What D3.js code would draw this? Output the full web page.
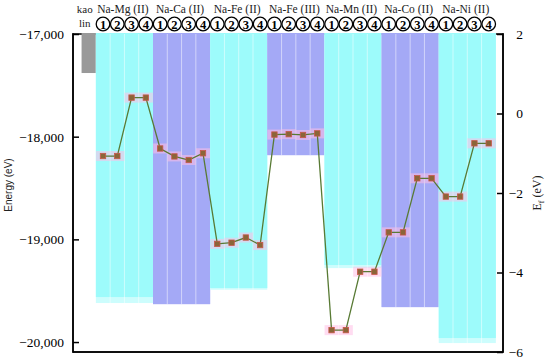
<!DOCTYPE html>
<html>
<head>
<meta charset="utf-8">
<script src="https://cdn.jsdelivr.net/npm/d3@7"></script>
<style>
  body { margin: 0; background: #fff; }
  svg { display: block; }
</style>
</head>
<body>
<svg id="chart" width="550" height="361"></svg>
<script>
// data
const groups = ["Na-Mg (II)", "Na-Ca (II)", "Na-Fe (II)", "Na-Fe (III)", "Na-Mn (II)", "Na-Co (II)", "Na-Ni (II)"]
const sites = ["1", "2", "3", "4"]
const kaolinEnergy = -17380
const groupEnergy = [-19562, -19630, -19474, -18179, -19250, -19659, -19961]
const groupEnergyLow = [-19620, -19632, -19490, -18181, -19280, -19661, -20010]
const formationEnergy = [
  -1.07, -1.07, 0.40, 0.40,
  -0.88, -1.08, -1.17, -1.00,
  -3.28, -3.25, -3.12, -3.31,
  -0.53, -0.52, -0.54, -0.50,
  -5.45, -5.45, -3.98, -3.98,
  -2.99, -2.99, -1.63, -1.63,
  -2.09, -2.09, -0.75, -0.75
]
const energyTicks = [-17000, -18000, -19000, -20000]
const efTicks = [2, 0, -2, -4, -6]

// cyan for even groups, periwinkle for odd ones
const barColors = ["#9dfbfb", "#a4a9f6"]
const lightColors = ["#cdfdfd", "#c6c9fa"]

const svg = d3.select("#chart")
const serif = "'Liberation Serif', 'Times New Roman', serif"

const mLeft = 73, mRight = 503, mTop = 34, mBottom = 352

const x = d3.scaleLinear().domain([-0.6, 29.5]).range([mLeft, mRight])
const y = d3.scaleLinear().domain([-20097, -17000]).range([mBottom, mTop])
const yf = d3.scaleLinear().domain([-6, 2]).range([mBottom, mTop])

// frame
svg.append("rect")
  .attr("x", mLeft).attr("y", mTop)
  .attr("width", mRight - mLeft).attr("height", mBottom - mTop)
  .attr("fill", "none").attr("stroke", "#000").attr("stroke-width", 1.5)

// kaolin bar
svg.append("rect")
  .attr("x", x(0)).attr("y", mTop - 1)
  .attr("width", x(1) - x(0)).attr("height", y(kaolinEnergy) - mTop + 1)
  .attr("fill", "#999")

// group bars
groups.forEach((g, gi) => {
  const c0 = 1 + gi * 4
  svg.append("rect")
    .attr("x", x(c0)).attr("y", mTop - 1)
    .attr("width", x(c0 + 4) - x(c0)).attr("height", y(groupEnergyLow[gi]) - mTop + 1)
    .attr("fill", lightColors[gi % 2])
  svg.append("rect")
    .attr("x", x(c0)).attr("y", mTop - 1)
    .attr("width", x(c0 + 4) - x(c0)).attr("height", y(groupEnergy[gi]) - mTop + 1)
    .attr("fill", barColors[gi % 2])
  // thin separators between the four columns
  for (let k = 1; k < 4; k++) {
    svg.append("line")
      .attr("x1", x(c0 + k)).attr("x2", x(c0 + k))
      .attr("y1", mTop).attr("y2", y(groupEnergyLow[gi]))
      .attr("stroke", "#fff").attr("stroke-opacity", 0.5).attr("stroke-width", 1)
  }
})

// left axis
const yAxis = d3.axisLeft(y).tickValues(energyTicks)
  .tickSize(-6).tickPadding(9)
  .tickFormat(d => d3.format(",")(d).replace("-", "\u2212"))
const ya = svg.append("g").attr("transform", `translate(${mLeft},0)`).call(yAxis)
ya.select(".domain").remove()
ya.selectAll("line").attr("stroke", "#000").attr("stroke-width", 1.5)
ya.selectAll("text").style("font-family", serif).style("font-size", "13.5px").attr("fill", "#000")

// right axis
const yfAxis = d3.axisRight(yf).tickValues(efTicks)
  .tickSize(-6).tickPadding(20)
  .tickFormat(d => String(d).replace("-", "\u2212"))
const yfa = svg.append("g").attr("transform", `translate(${mRight},0)`).call(yfAxis)
yfa.select(".domain").remove()
yfa.selectAll("line").attr("stroke", "#000").attr("stroke-width", 1.5)
yfa.selectAll("text").style("font-family", serif).style("font-size", "13.5px").attr("fill", "#000")
  .attr("text-anchor", "end")

// redraw left/right/bottom axis lines over bars
svg.append("line").attr("x1", mLeft).attr("x2", mLeft).attr("y1", mTop - 0.75).attr("y2", mBottom + 0.75)
  .attr("stroke", "#000").attr("stroke-width", 1.5)
svg.append("line").attr("x1", mRight).attr("x2", mRight).attr("y1", mTop - 0.75).attr("y2", mBottom + 0.75)
  .attr("stroke", "#000").attr("stroke-width", 1.5)
svg.append("line").attr("x1", mLeft).attr("x2", mRight).attr("y1", mBottom).attr("y2", mBottom)
  .attr("stroke", "#000").attr("stroke-width", 1.5)

// axis titles
svg.append("text")
  .attr("transform", `translate(12,${(mTop + mBottom) / 2 - 8}) rotate(-90)`)
  .attr("text-anchor", "middle")
  .style("font-family", "'Liberation Sans', Arial, sans-serif").style("font-size", "10px").attr("fill", "#222")
  .text("Energy (eV)")

const ef = svg.append("text")
  .attr("transform", `translate(541,${(mTop + mBottom) / 2}) rotate(-90)`)
  .attr("text-anchor", "middle")
  .style("font-family", serif).style("font-size", "12px").attr("fill", "#222")
ef.append("tspan").text("E")
ef.append("tspan").style("font-size", "8px").attr("dy", 3).text("f")
ef.append("tspan").attr("dy", -3).text(" (eV)")

// header
svg.append("text").attr("x", x(0.5) - 4).attr("y", 13)
  .attr("text-anchor", "middle").style("font-family", serif).style("font-size", "11px").attr("fill", "#222")
  .text("kao")
svg.append("text").attr("x", x(0.5) - 4).attr("y", 27)
  .attr("text-anchor", "middle").style("font-family", serif).style("font-size", "11px").attr("fill", "#222")
  .text("lin")

svg.selectAll(".glabel").data(groups).join("text")
  .attr("class", "glabel")
  .attr("x", (d, i) => x(1 + i * 4 + 2) - 1.5)
  .attr("y", 13)
  .attr("text-anchor", "middle")
  .style("font-family", serif).style("font-size", "11.5px").attr("fill", "#222")
  .text(d => d)

const cols = d3.range(28).map(i => ({ col: i + 1, site: sites[i % 4] }))
const circ = svg.selectAll(".site").data(cols).join("g")
  .attr("class", "site")
  .attr("transform", d => `translate(${x(d.col + 0.5)},24)`)
circ.append("circle").attr("r", 6.8)
  .attr("fill", "#fff").attr("stroke", "#000").attr("stroke-width", 1.3)
circ.append("text")
  .attr("text-anchor", "middle").attr("dy", "0.36em")
  .style("font-family", serif).style("font-size", "12.5px").style("font-weight", "bold").attr("fill", "#000")
  .text(d => d.site)

// formation energy line
const pts = formationEnergy.map((v, i) => ({ col: i + 1, v }))

svg.selectAll(".halo").data(pts).join("rect")
  .attr("class", "halo")
  .attr("x", d => x(d.col + 0.5) - 7).attr("y", d => yf(d.v) - 5)
  .attr("width", 14).attr("height", 10)
  .attr("fill", "#ffbfe6").attr("opacity", 0.55)

svg.append("path")
  .datum(pts)
  .attr("fill", "none")
  .attr("stroke", "#587a34").attr("stroke-width", 1.3)
  .attr("d", d3.line().x(d => x(d.col + 0.5)).y(d => yf(d.v)))

svg.selectAll(".pt").data(pts).join("rect")
  .attr("class", "pt")
  .attr("x", d => x(d.col + 0.5) - 2.7).attr("y", d => yf(d.v) - 2.7)
  .attr("width", 5.4).attr("height", 5.4)
  .attr("fill", "#8b6538").attr("stroke", "#c9574a").attr("stroke-width", 0.8)
</script>
</body>
</html>
